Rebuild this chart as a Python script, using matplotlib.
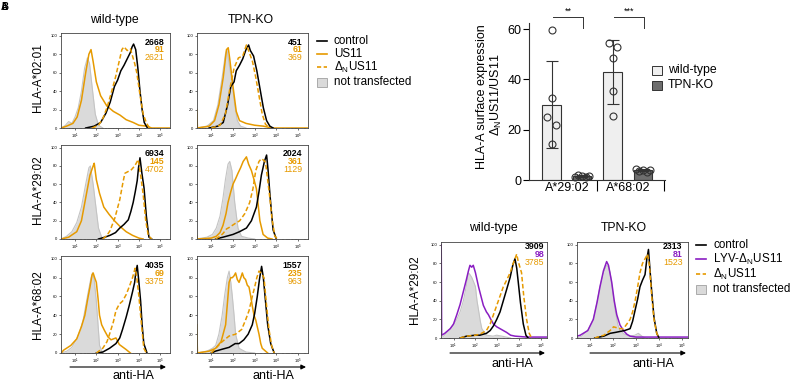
import numpy as np
import matplotlib
matplotlib.use('Agg')
import matplotlib.pyplot as plt
from matplotlib.lines import Line2D
from matplotlib.patches import Rectangle

plt.rcParams['font.family'] = ['Liberation Sans', 'DejaVu Sans']
plt.rcParams['mathtext.fontset'] = 'custom'
plt.rcParams['mathtext.rm'] = 'Liberation Sans'
plt.rcParams['mathtext.it'] = 'Liberation Sans:italic'
plt.rcParams['mathtext.bf'] = 'Liberation Sans:bold'

ORANGE = '#E69A00'
PURPLE = '#8A1EC2'
GFILL = '#dadada'
GEDGE = '#c4c4c4'

# ---------------- data: histograms (log10 anti-HA, % of max) ----------------
wt0201_gray = [(0.35,0),(0.55,3),(0.7,7),(0.85,5),(1.0,12),(1.15,22),(1.3,40),(1.45,65),(1.58,76),(1.68,70),(1.8,45),(1.95,15),(2.1,3),(2.3,0)]
wt0201_us11 = [(0.35,0),(0.6,2),(0.9,5),(1.1,12),(1.3,30),(1.5,60),(1.65,80),(1.75,85),(1.85,72),(2.0,50),(2.2,35),(2.49,24),(2.8,18),(3.11,14),(3.4,9),(3.73,6),(4.0,3),(4.36,2),(4.6,0),(5.45,0)]
wt0201_ctrl = [(1.5,0),(1.9,2),(2.2,6),(2.45,16),(2.65,28),(2.85,45),(3.0,52),(3.15,62),(3.3,68),(3.45,75),(3.6,82),(3.68,88),(3.75,91),(3.85,85),(3.95,65),(4.05,40),(4.15,20),(4.25,6),(4.4,0)]
wt0201_dn = [(1.8,0),(2.1,3),(2.3,10),(2.5,22),(2.7,38),(2.9,55),(3.05,70),(3.2,85),(3.3,88),(3.45,84),(3.6,86),(3.7,78),(3.8,70),(3.9,60),(4.05,36),(4.2,15),(4.36,5),(4.5,0)]

tpn0201_gray = [(0.3,0),(0.8,2),(1.1,8),(1.3,25),(1.5,55),(1.65,80),(1.72,85),(1.82,70),(1.95,50),(2.08,25),(2.2,8),(2.35,2),(2.6,0)]
tpn0201_us11 = [(0.33,20),(0.36,0),(0.9,2),(1.15,8),(1.35,25),(1.55,55),(1.7,85),(1.78,87),(1.85,75),(2.0,45),(2.15,18),(2.3,8),(2.6,5),(3.0,3),(3.4,2),(3.8,0),(5.45,0)]
tpn0201_ctrl = [(0.9,0),(1.3,2),(1.55,6),(1.75,25),(1.9,45),(2.05,50),(2.15,62),(2.3,68),(2.45,75),(2.6,85),(2.72,90),(2.8,84),(2.95,78),(3.1,62),(3.25,42),(3.4,22),(3.55,8),(3.7,2),(3.85,0)]
tpn0201_dn = [(1.0,0),(1.4,3),(1.65,15),(1.85,42),(2.05,65),(2.25,76),(2.45,78),(2.62,90),(2.75,82),(2.9,72),(3.05,55),(3.2,35),(3.35,15),(3.5,4),(3.7,0)]

wt2902_gray = [(0.35,0),(0.6,3),(0.85,8),(1.08,18),(1.3,35),(1.5,60),(1.65,78),(1.72,80),(1.85,60),(1.98,35),(2.1,12),(2.25,2),(2.4,0)]
wt2902_us11 = [(0.35,0),(0.7,2),(1.08,8),(1.3,20),(1.5,45),(1.7,70),(1.85,80),(1.9,83),(2.0,65),(2.15,50),(2.35,35),(2.6,27),(2.85,20),(3.1,14),(3.4,8),(3.7,4),(4.0,1),(4.2,0)]
wt2902_ctrl = [(2.1,0),(2.4,2),(2.64,4),(2.9,7),(3.1,12),(3.3,16),(3.5,21),(3.62,30),(3.73,40),(3.83,52),(3.92,64),(3.98,78),(4.05,89),(4.14,72),(4.24,56),(4.35,25),(4.47,2),(4.6,0)]
wt2902_dn = [(2.3,0),(2.5,4),(2.64,9),(2.87,23),(3.1,43),(3.25,62),(3.34,72),(3.5,74),(3.65,76),(3.8,80),(3.97,87),(4.08,70),(4.2,49),(4.32,20),(4.44,4),(4.6,0)]

tpn2902_gray = [(0.3,0),(0.8,2),(1.05,5),(1.23,12),(1.4,25),(1.54,45),(1.65,65),(1.77,82),(1.85,85),(1.95,75),(2.08,40),(2.23,12),(2.39,3),(2.7,1),(3.0,0)]
tpn2902_us11 = [(0.33,3),(0.36,0),(1.0,1),(1.23,3),(1.4,7),(1.54,15),(1.68,28),(1.77,40),(1.9,52),(2.0,60),(2.12,66),(2.23,72),(2.35,78),(2.47,85),(2.62,90),(2.72,82),(2.85,75),(2.97,65),(3.08,55),(3.16,38),(3.24,20),(3.39,5),(3.6,1),(3.8,0)]
tpn2902_ctrl = [(1.2,0),(1.54,2),(2.0,5),(2.3,8),(2.62,12),(2.85,20),(3.08,35),(3.2,52),(3.31,70),(3.45,85),(3.55,92),(3.62,75),(3.7,50),(3.78,28),(3.85,10),(4.0,0)]
tpn2902_dn = [(1.2,0),(1.4,3),(1.54,6),(1.7,11),(1.85,13),(2.1,17),(2.31,20),(2.55,28),(2.77,40),(2.92,55),(3.05,75),(3.2,85),(3.31,88),(3.43,86),(3.5,84),(3.6,65),(3.7,45),(3.8,22),(3.93,3),(4.05,0)]

wt6802_gray = [(0.35,0),(0.62,2),(0.85,6),(1.08,15),(1.25,25),(1.38,35),(1.5,50),(1.62,65),(1.75,80),(1.82,85),(1.9,78),(2.0,55),(2.08,30),(2.15,8),(2.3,0)]
wt6802_us11 = [(0.35,0),(0.46,3),(0.8,8),(1.08,15),(1.3,28),(1.46,40),(1.6,58),(1.7,70),(1.8,83),(1.85,85),(1.92,80),(2.0,75),(2.08,58),(2.15,40),(2.25,30),(2.38,24),(2.55,17),(2.69,14),(2.92,16),(3.08,9),(3.38,4),(3.6,0)]
wt6802_ctrl = [(2.0,0),(2.3,1),(2.62,5),(2.92,10),(3.1,16),(3.23,25),(3.4,38),(3.54,50),(3.7,65),(3.8,75),(3.85,85),(3.92,93),(4.0,75),(4.08,55),(4.15,30),(4.23,10),(4.38,0)]
wt6802_dn = [(2.0,0),(2.3,5),(2.5,12),(2.62,20),(2.8,33),(2.92,45),(3.08,52),(3.23,55),(3.4,62),(3.54,70),(3.7,80),(3.82,90),(3.9,80),(4.0,60),(4.12,30),(4.23,5),(4.35,0)]

tpn6802_gray = [(0.3,0),(0.8,2),(1.05,5),(1.2,8),(1.35,20),(1.5,40),(1.62,62),(1.74,80),(1.82,87),(1.9,75),(1.97,60),(2.05,40),(2.12,20),(2.28,5),(2.6,1),(3.0,0)]
tpn6802_us11 = [(0.33,30),(0.36,0),(0.9,2),(1.2,5),(1.45,12),(1.66,30),(1.75,55),(1.82,75),(1.9,80),(1.97,80),(2.05,82),(2.12,85),(2.2,78),(2.28,75),(2.36,80),(2.43,85),(2.5,80),(2.58,78),(2.66,72),(2.74,70),(2.82,60),(2.89,50),(2.97,40),(3.05,35),(3.12,28),(3.2,20),(3.28,10),(3.35,5),(3.6,0)]
tpn6802_ctrl = [(1.0,0),(1.2,2),(1.5,4),(1.82,6),(2.1,10),(2.28,10),(2.5,14),(2.7,20),(2.89,30),(3.0,42),(3.12,60),(3.22,78),(3.32,92),(3.4,80),(3.5,55),(3.6,30),(3.74,10),(3.9,0)]
tpn6802_dn = [(1.0,0),(1.2,5),(1.5,12),(1.82,18),(2.12,20),(2.4,25),(2.58,35),(2.74,45),(2.89,60),(3.0,70),(3.1,80),(3.2,87),(3.3,85),(3.43,80),(3.55,50),(3.66,25),(3.78,8),(3.9,0)]

cwt_gray = [(0.42,0),(0.55,2),(0.85,10),(1.0,14),(1.15,20),(1.3,28),(1.45,40),(1.6,58),(1.68,70),(1.75,68),(1.83,65),(1.92,60),(2.0,55),(2.07,40),(2.14,30),(2.22,18),(2.29,10),(2.5,3),(2.8,2),(2.97,3),(3.2,2),(3.4,1),(3.6,0)]
cwt_lyv = [(0.44,100),(0.46,3),(0.6,5),(0.85,10),(1.0,15),(1.15,25),(1.3,36),(1.45,50),(1.58,62),(1.68,72),(1.75,78),(1.83,76),(1.9,78),(2.0,70),(2.14,55),(2.25,45),(2.36,35),(2.5,28),(2.59,25),(2.7,20),(2.82,15),(2.97,12),(3.12,10),(3.27,8),(3.42,6),(3.6,3),(3.8,2),(4.33,1),(5.26,1)]
cwt_ctrl = [(1.3,0),(1.6,2),(2.0,3),(2.2,3),(2.5,5),(2.67,8),(2.82,13),(2.97,20),(3.12,28),(3.27,40),(3.42,52),(3.58,65),(3.7,78),(3.8,85),(3.88,75),(3.95,60),(4.05,38),(4.18,15),(4.3,3),(4.4,0)]
cwt_dn = [(1.3,0),(1.6,2),(2.0,3),(2.2,4),(2.5,8),(2.67,15),(2.82,25),(2.97,35),(3.12,45),(3.27,55),(3.42,62),(3.58,70),(3.72,80),(3.88,90),(3.95,82),(4.1,70),(4.2,45),(4.33,20),(4.45,5),(4.56,0)]

ctpn_gray = [(0.43,0),(0.64,2),(0.9,8),(1.14,20),(1.3,38),(1.43,55),(1.58,70),(1.72,78),(1.8,76),(1.87,70),(1.98,50),(2.09,30),(2.2,15),(2.3,8),(2.5,4),(2.74,2),(2.95,3),(3.1,5),(3.25,2),(3.4,0)]
ctpn_lyv = [(0.43,2),(0.57,3),(0.9,8),(1.14,20),(1.3,38),(1.43,55),(1.58,72),(1.72,82),(1.8,78),(1.94,60),(2.05,40),(2.16,25),(2.3,14),(2.45,8),(2.6,4),(2.74,2),(3.0,1),(5.26,1)]
ctpn_ctrl = [(1.2,0),(1.6,2),(1.87,5),(2.1,6),(2.3,7),(2.5,8),(2.74,10),(2.85,18),(2.96,30),(3.07,42),(3.17,55),(3.28,62),(3.39,68),(3.47,85),(3.54,95),(3.6,75),(3.68,50),(3.78,22),(3.9,5),(4.0,0)]
ctpn_dn = [(1.2,0),(1.6,3),(1.87,8),(2.02,12),(2.16,11),(2.3,10),(2.45,10),(2.6,15),(2.74,20),(2.85,28),(2.96,40),(3.07,55),(3.17,70),(3.28,80),(3.39,85),(3.5,90),(3.58,78),(3.68,45),(3.78,20),(3.9,5),(4.0,0)]

# MFI numbers
mfi_wt0201 = ['2668', '91', '2621']
mfi_tpn0201 = ['451', '61', '369']
mfi_wt2902 = ['6934', '145', '4702']
mfi_tpn2902 = ['2024', '361', '1129']
mfi_wt6802 = ['4035', '69', '3375']
mfi_tpn6802 = ['1557', '235', '963']
mfi_cwt = ['3909', '98', '3785']
mfi_ctpn = ['2313', '81', '1523']

row_labels = ['HLA-A*02:01', 'HLA-A*29:02', 'HLA-A*68:02']
col_titles = ['wild-type', 'TPN-KO']

# ---------------- data: bar chart ----------------
bar_categories = ['A*29:02', 'A*68:02']
bar_groups = ['wild-type', 'TPN-KO']
bar_mean_wt = [30.0, 43.0]
bar_sd_wt = [17.2, 12.7]
bar_mean_tpn = [1.5, 3.8]
bar_sd_tpn = [0.3, 0.4]
pts_wt = [[59.5, 32.5, 25.0, 22.0, 14.5], [54.5, 53.0, 48.5, 35.5, 25.5]]
pts_tpn = [[1.2, 1.8, 1.5, 1.3, 1.7], [4.2, 3.5, 4.0, 3.2, 3.8]]
sig_labels = ['**', '***']

# ---------------- layout helpers ----------------
W, H = 797, 381
fig = plt.figure(figsize=(W / 100, H / 100), dpi=100)
LEG_FS = 8.4


def rect(l, t, r, b):
    return [l / W, 1 - b / H, (r - l) / W, (b - t) / H]


def fx(px):
    return px / W


def fy(py):
    return 1 - py / H


def curve(pairs):
    a = np.array(pairs, dtype=float)
    return 10 ** a[:, 0], a[:, 1]


def hist_panel(box, gray, mid, ctrl, dn, nums, mid_color, xlim_log, num_pos):
    ax = fig.add_axes(rect(*box))
    ax.set_xscale('log')
    gx, gy = curve(gray)
    ax.fill_between(gx, 0, gy, color=GFILL, lw=0, zorder=1)
    ax.plot(gx, gy, color=GEDGE, lw=0.8, zorder=1.5)
    mx, my = curve(mid)
    ax.plot(mx, my, color=mid_color, lw=1.1, zorder=2)
    cx, cy = curve(ctrl)
    ax.plot(cx, cy, color='black', lw=1.1, zorder=3)
    dx, dy = curve(dn)
    ax.plot(dx, dy, color=ORANGE, lw=1.1, ls=(0, (3, 1.6)), zorder=4)
    ax.set_xlim(10 ** xlim_log[0], 10 ** xlim_log[1])
    ax.set_ylim(0, 103)
    ax.set_yticks([0, 20, 40, 60, 80, 100])
    ax.set_xticks([10, 100, 1000, 10000, 100000])
    ax.tick_params(labelsize=3, length=1.6, width=0.4, pad=1)
    ax.tick_params(which='minor', length=1.0, width=0.3)
    for s in ax.spines.values():
        s.set_linewidth(0.6)
        s.set_color('#444444')
    xr, y0, dyy = num_pos
    cols = ['black', mid_color, ORANGE]
    weights = ['bold', 'bold', 'normal']
    for i, t in enumerate(nums):
        ax.text(xr, y0 - i * dyy, t, transform=ax.transAxes, ha='right', va='center',
                fontsize=6.3, color=cols[i], fontweight=weights[i])
    return ax


# ---------------- panel A ----------------
colx = [(61, 170), (197, 308)]
rowy = [(33, 128), (145, 239), (256, 353)]
A_sets = [
    [(wt0201_gray, wt0201_us11, wt0201_ctrl, wt0201_dn, mfi_wt0201),
     (tpn0201_gray, tpn0201_us11, tpn0201_ctrl, tpn0201_dn, mfi_tpn0201)],
    [(wt2902_gray, wt2902_us11, wt2902_ctrl, wt2902_dn, mfi_wt2902),
     (tpn2902_gray, tpn2902_us11, tpn2902_ctrl, tpn2902_dn, mfi_tpn2902)],
    [(wt6802_gray, wt6802_us11, wt6802_ctrl, wt6802_dn, mfi_wt6802),
     (tpn6802_gray, tpn6802_us11, tpn6802_ctrl, tpn6802_dn, mfi_tpn6802)],
]
for r in range(3):
    for c in range(2):
        g, m, k, d, n = A_sets[r][c]
        hist_panel((colx[c][0], rowy[r][0], colx[c][1], rowy[r][1]), g, m, k, d, n,
                   ORANGE, (0.34, 5.46), (0.95, 0.905, 0.083))

row_label_y = [78, 190, 305]
for r in range(3):
    fig.text(fx(38), fy(row_label_y[r]), row_labels[r], rotation=90, ha='center', va='center', fontsize=8.5)
fig.text(fx(114), fy(20), col_titles[0], ha='center', va='center', fontsize=8.8)
fig.text(fx(251), fy(20), col_titles[1], ha='center', va='center', fontsize=8.8)


def arrow(x1, x2, y):
    fig.add_artist(matplotlib.patches.FancyArrowPatch((fx(x1), fy(y)), (fx(x2), fy(y)),
                   transform=fig.transFigure, arrowstyle='-|>', mutation_scale=7, lw=0.8, color='black',
                   shrinkA=0, shrinkB=0))


arrow(70, 166, 367)
arrow(210, 306, 367)
fig.text(fx(133), fy(376), 'anti-HA', ha='center', va='center', fontsize=9)
fig.text(fx(273), fy(376), 'anti-HA', ha='center', va='center', fontsize=9)


def legend_line(x, y, color, ls='-'):
    fig.add_artist(Line2D([fx(x), fx(x + 10)], [fy(y), fy(y)], transform=fig.transFigure,
                          color=color, lw=1.2, ls=ls))


def legend_box(x, y, face, edge, w=10, h=9):
    fig.add_artist(Rectangle((fx(x), fy(y + h / 2)), w / W, h / H, transform=fig.transFigure,
                             facecolor=face, edgecolor=edge, lw=0.7))


legend_line(317, 41, 'black')
fig.text(fx(334), fy(41), 'control', ha='left', va='center', fontsize=LEG_FS)
legend_line(317, 54, ORANGE)
fig.text(fx(334), fy(54), 'US11', ha='left', va='center', fontsize=LEG_FS)
legend_line(317, 67, ORANGE, ls=(0, (2.5, 1.5)))
fig.text(fx(334), fy(67), r'$\mathregular{\Delta_N}$US11', ha='left', va='center', fontsize=LEG_FS)
legend_box(317, 82, GFILL, '#aaaaaa')
fig.text(fx(334), fy(82), 'not transfected', ha='left', va='center', fontsize=LEG_FS)

# panel letters (overlapping)
fig.text(fx(1), fy(7), 'A', ha='left', va='center', fontsize=7, fontweight='bold')
fig.text(fx(1.5), fy(7), 'B', ha='left', va='center', fontsize=7, fontweight='bold')

# ---------------- panel B: bar chart ----------------
axb = fig.add_axes(rect(529, 23, 665, 180))
xc = np.arange(len(bar_categories))
off, bw = 0.25, 0.3
axb.bar(xc - off, bar_mean_wt, width=bw, color='#efefef', edgecolor='#333333', lw=0.8, zorder=2)
axb.bar(xc + off, bar_mean_tpn, width=bw, color='#6e6e6e', edgecolor='#333333', lw=0.8, zorder=2)
axb.errorbar(xc - off, bar_mean_wt, yerr=bar_sd_wt, fmt='none', ecolor='#333333', elinewidth=0.8,
             capsize=4.5, capthick=0.8, zorder=3)
axb.errorbar(xc + off, bar_mean_tpn, yerr=bar_sd_tpn, fmt='none', ecolor='#333333', elinewidth=0.8,
             capsize=4.5, capthick=0.8, zorder=3)
jit_wt = [[0, 0, -0.077, 0.07, 0], [-0.066, 0.08, 0, 0, 0]]
jit_tpn = [-0.12, -0.06, 0, 0.06, 0.12]
for i in range(len(bar_categories)):
    axb.plot(xc[i] - off + np.array(jit_wt[i]), pts_wt[i], 'o', mfc='none', mec='#333333',
             ms=5, mew=0.8, zorder=4, clip_on=False)
    axb.plot(xc[i] + off + np.array(jit_tpn), pts_tpn[i], 'o', mfc='none', mec='#333333',
             ms=5, mew=0.8, zorder=4, clip_on=False)
axb.set_xlim(-0.62, 1.61)
axb.set_ylim(0, 62.4)
axb.set_yticks([0, 20, 40, 60])
axb.tick_params(axis='y', labelsize=9, length=4, width=0.8, pad=1.5)
axb.set_xticks([0.5, 1.6])
axb.set_xticklabels(['', ''])
axb.tick_params(axis='x', length=8, width=0.8)
for s in ['top', 'right']:
    axb.spines[s].set_visible(False)
for s in ['left', 'bottom']:
    axb.spines[s].set_linewidth(0.8)
    axb.spines[s].set_color('#333333')
for i, lab in enumerate(bar_categories):
    axb.text(xc[i], -3.2, lab, ha='center', va='center', fontsize=9)
for i, lab in enumerate(sig_labels):
    x1, x2 = xc[i] - 0.23, xc[i] + 0.27
    axb.plot([x1, x2, x2], [64.8, 64.8, 60.4], color='#333333', lw=0.7, clip_on=False)
    axb.text((x1 + x2) / 2, 65.2, lab, ha='center', va='bottom', fontsize=6.5)

fig.text(fx(482), fy(97), 'HLA-A surface expression', rotation=90, ha='center', va='center', fontsize=9)
fig.text(fx(496), fy(95), r'$\mathregular{\Delta_N}$US11/US11', rotation=90, ha='center', va='center', fontsize=9)

legend_box(652, 70.5, '#efefef', '#333333')
fig.text(fx(668), fy(70.5), bar_groups[0], ha='left', va='center', fontsize=8.8)
legend_box(652, 85.5, '#6e6e6e', '#333333')
fig.text(fx(668), fy(85.5), bar_groups[1], ha='left', va='center', fontsize=8.8)

# ---------------- panel C ----------------
hist_panel((441, 242, 547, 338), cwt_gray, cwt_lyv, cwt_ctrl, cwt_dn, mfi_cwt, PURPLE,
           (0.43, 5.26), (0.975, 0.955, 0.082))
hist_panel((577, 242, 688, 338), ctpn_gray, ctpn_lyv, ctpn_ctrl, ctpn_dn, mfi_ctpn, PURPLE,
           (0.43, 5.26), (0.95, 0.955, 0.082))
fig.text(fx(415), fy(290), 'HLA-A*29:02', rotation=90, ha='center', va='center', fontsize=8.5)
fig.text(fx(493), fy(228), col_titles[0], ha='center', va='center', fontsize=8.8)
fig.text(fx(624), fy(228), col_titles[1], ha='center', va='center', fontsize=8.8)
arrow(450, 545, 353)
arrow(590, 686, 353)
fig.text(fx(512), fy(364), 'anti-HA', ha='center', va='center', fontsize=9)
fig.text(fx(653), fy(364), 'anti-HA', ha='center', va='center', fontsize=9)

legend_line(696, 245, 'black')
fig.text(fx(713), fy(245), 'control', ha='left', va='center', fontsize=LEG_FS)
legend_line(696, 259, PURPLE)
fig.text(fx(713), fy(259), r'LYV-$\mathregular{\Delta_N}$US11', ha='left', va='center', fontsize=LEG_FS)
legend_line(696, 274, ORANGE, ls=(0, (2.5, 1.5)))
fig.text(fx(713), fy(274), r'$\mathregular{\Delta_N}$US11', ha='left', va='center', fontsize=LEG_FS)
legend_box(696, 289, GFILL, '#aaaaaa')
fig.text(fx(713), fy(289), 'not transfected', ha='left', va='center', fontsize=LEG_FS)

fig.savefig('out.png', dpi=100)
